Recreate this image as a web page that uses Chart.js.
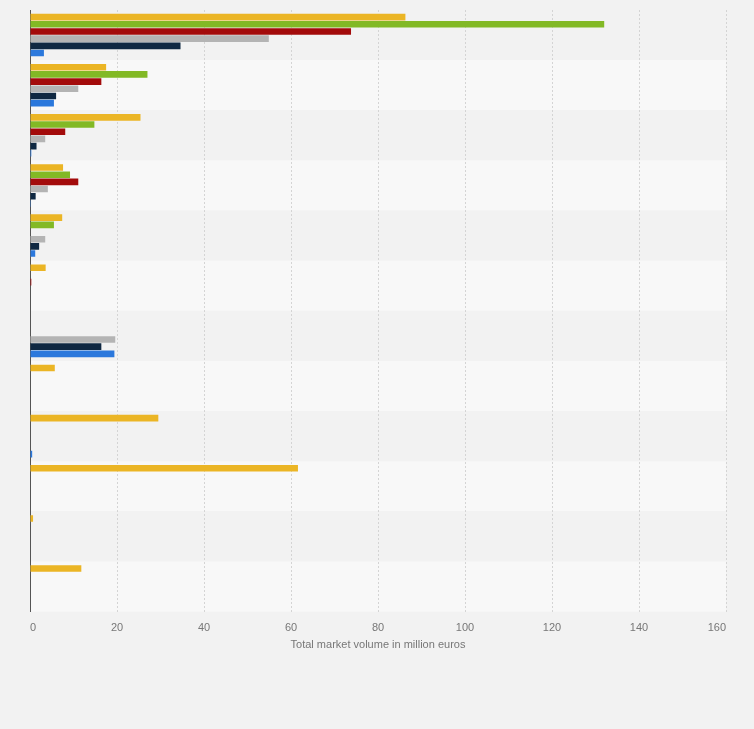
<!DOCTYPE html>
<html>
<head>
<meta charset="utf-8">
<script src="https://cdn.jsdelivr.net/npm/chart.js@4/dist/chart.umd.min.js"></script>
<style>
  html, body { margin: 0; padding: 0; background: #f2f2f2; }
  #wrap { width: 754px; height: 729px; position: relative; }
</style>
</head>
<body>
<div id="wrap"><canvas id="myChart"></canvas></div>
<script>
// rows top to bottom (no labels are printed on the chart)
const categories = ['Row 1', 'Row 2', 'Row 3', 'Row 4', 'Row 5', 'Row 6',
                    'Row 7', 'Row 8', 'Row 9', 'Row 10', 'Row 11', 'Row 12'];

const seriesNames = ['Series 1', 'Series 2', 'Series 3', 'Series 4', 'Series 5', 'Series 6'];

const yellowValues = [86.3, 17.5, 25.4, 7.6, 7.4, 3.6, null, 5.7, 29.5, 61.6, 0.7, 11.8];
const greenValues  = [132.0, 27.0, 14.8, 9.2, 5.5, null, null, null, null, null, null, null];
const redValues    = [73.8, 16.4, 8.1, 11.1, null, 0.3, null, null, null, null, null, null];
const grayValues   = [54.9, 11.1, 3.5, 4.1, 3.5, null, 19.6, null, null, null, null, null];
const navyValues   = [34.6, 6.0, 1.5, 1.3, 2.1, null, 16.4, null, null, null, null, null];
const blueValues   = [3.2, 5.5, 0.3, 0.2, 1.2, null, 19.4, null, 0.5, null, null, null];

const xTicks = [0, 20, 40, 60, 80, 100, 120, 140, 160];
const axisTitle = 'Total market volume in million euros';

const colors = ['#ebb525', '#82b925', '#a30b0b', '#b4b4b4', '#0f2842', '#2b78dc'];
const allValues = [yellowValues, greenValues, redValues, grayValues, navyValues, blueValues];

// alternating row bands, drawn before the grid and axes
const rowBands = {
    id: 'rowBands',
    beforeDraw(chart) {
        const {ctx, chartArea, scales} = chart;
        const y = scales.y;
        ctx.save();
        categories.forEach((c, i) => {
            const top = i === 0 ? chartArea.top : (y.getPixelForValue(i - 1) + y.getPixelForValue(i)) / 2;
            const bottom = i === categories.length - 1 ? chartArea.bottom : (y.getPixelForValue(i) + y.getPixelForValue(i + 1)) / 2;
            ctx.fillStyle = i % 2 === 0 ? '#f2f2f2' : '#f8f8f8';
            ctx.fillRect(chartArea.left, top, chartArea.right - chartArea.left, bottom - top);
        });
        ctx.restore();
    }
};

const ctx = document.getElementById('myChart').getContext('2d');
const myChart = new Chart(ctx, {
    type: 'bar',
    data: {
        labels: categories,
        datasets: allValues.map((vals, i) => ({
            label: seriesNames[i],
            data: vals,
            backgroundColor: colors[i],
            borderWidth: 0,
            categoryPercentage: 0.86,
            barPercentage: 0.92
        }))
    },
    options: {
        indexAxis: 'y',
        responsive: true,
        maintainAspectRatio: false,
        animation: false,
        layout: { padding: { left: 30, right: 28, top: 10, bottom: 77 } },
        plugins: {
            legend: { display: false },
            tooltip: { enabled: false }
        },
        scales: {
            x: {
                min: 0,
                max: 160,
                afterBuildTicks: axis => { axis.ticks = xTicks.map(v => ({ value: v })); },
                grid: { color: '#d4d4d4', drawTicks: false, lineWidth: 1 },
                border: { display: false, dash: [2, 2] },
                ticks: {
                    padding: 10,
                    align: 'inner',
                    color: '#777',
                    font: { family: 'Arial, "Liberation Sans", sans-serif', size: 11 }
                },
                title: {
                    display: true,
                    text: axisTitle,
                    color: '#777',
                    padding: { top: -6, bottom: 0 },
                    font: { family: 'Arial, "Liberation Sans", sans-serif', size: 11 }
                }
            },
            y: {
                grid: { display: false, drawTicks: false },
                border: { display: true, color: '#555', width: 1 },
                ticks: { display: false }
            }
        }
    },
    plugins: [rowBands]
});
</script>
</body>
</html>
